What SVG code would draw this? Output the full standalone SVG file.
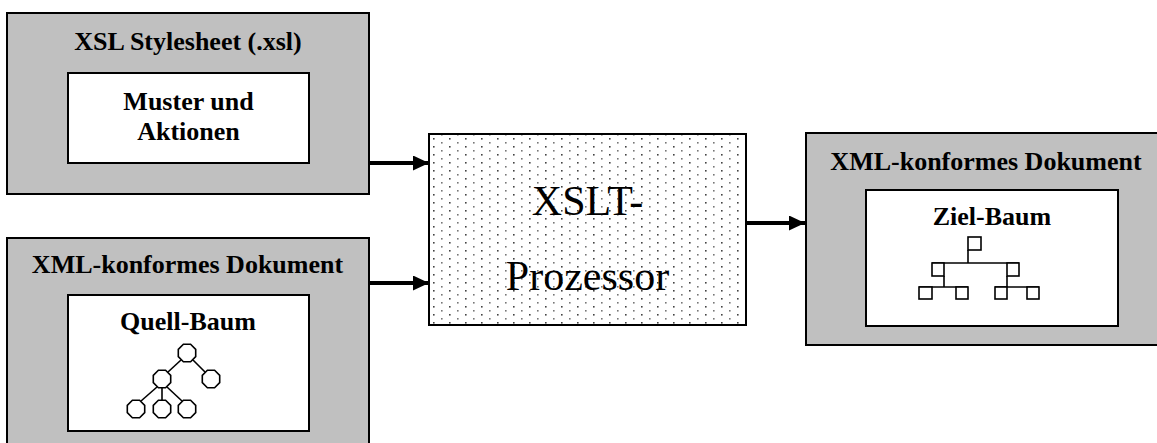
<svg xmlns="http://www.w3.org/2000/svg" width="1157" height="443" viewBox="0 0 1157 443">
  <style>
    .outer { fill: #c0c0c0; stroke: #000; stroke-width: 2; }
    .inner { fill: #fff; stroke: #000; stroke-width: 2; }
    .title { font-family: "Liberation Serif", "Times New Roman", serif; font-weight: bold; font-size: 26px; fill: #000; text-anchor: middle; }
    .big { font-family: "Liberation Serif", "Times New Roman", serif; font-size: 42px; fill: #000; text-anchor: middle; }
    .tree { fill: #fff; stroke: #000; stroke-width: 1.6; }
    .edge { fill: none; stroke: #000; stroke-width: 1.6; }
    .arrow { fill: none; stroke: #000; stroke-width: 4; }
  </style>
  <defs>
    <pattern id="dots" width="16" height="8" patternUnits="userSpaceOnUse" x="431" y="136">
      <rect x="2" y="2" width="1.6" height="1.6" fill="#444"/>
      <rect x="10" y="6" width="1.6" height="1.6" fill="#777"/>
    </pattern>
    <polygon id="oct" points="3.6,-8.7 8.7,-3.6 8.7,3.6 3.6,8.7 -3.6,8.7 -8.7,3.6 -8.7,-3.6 -3.6,-8.7"/>
    <marker id="head" markerWidth="16" markerHeight="15" refX="16" refY="7.5" orient="auto" markerUnits="userSpaceOnUse">
      <path d="M0,0 L16,7.5 L0,15 Z" fill="#000"/>
    </marker>
  </defs>

  <!-- stylesheet -->
  <g id="stylesheet">
    <rect class="outer" x="7" y="13" width="362" height="181"/>
    <text class="title" x="188" y="50">XSL Stylesheet (.xsl)</text>
    <rect class="inner" x="68" y="73" width="241" height="90"/>
    <text class="title" x="188.5" y="110">Muster und</text>
    <text class="title" x="188.5" y="140">Aktionen</text>
  </g>

  <!-- source document -->
  <g id="source">
    <rect class="outer" x="7" y="238" width="362" height="220"/>
    <text class="title" x="187.5" y="273">XML-konformes Dokument</text>
    <rect class="inner" x="68" y="295" width="241" height="136"/>
    <text class="title" x="188" y="330">Quell-Baum</text>
    <g class="edge">
      <line x1="193" y1="360" x2="205" y2="372"/>
      <line x1="181" y1="360" x2="168" y2="372"/>
      <line x1="157" y1="387" x2="141" y2="401"/>
      <line x1="162" y1="388" x2="162" y2="400"/>
      <line x1="167" y1="387" x2="182" y2="401"/>
    </g>
    <g class="tree">
      <use href="#oct" x="187" y="353"/>
      <use href="#oct" x="211" y="379"/>
      <use href="#oct" x="162" y="379"/>
      <use href="#oct" x="136" y="409"/>
      <use href="#oct" x="162" y="409"/>
      <use href="#oct" x="187" y="409"/>
    </g>
  </g>

  <!-- processor -->
  <g id="processor">
    <rect x="429" y="134" width="317" height="191" fill="#fff"/>
    <rect x="429" y="134" width="317" height="191" fill="url(#dots)" stroke="#000" stroke-width="2"/>
    <text class="big" x="587.5" y="215">XSLT-</text>
    <text class="big" x="587.5" y="290">Prozessor</text>
  </g>

  <!-- result document -->
  <g id="result">
    <rect class="outer" x="806" y="133" width="360" height="212"/>
    <text class="title" x="986" y="170">XML-konformes Dokument</text>
    <rect class="inner" x="866" y="190" width="252" height="136"/>
    <text class="title" x="992" y="225">Ziel-Baum</text>
    <g class="edge">
      <line x1="968" y1="250" x2="968" y2="263"/>
      <line x1="932" y1="263" x2="1019" y2="263"/>
      <line x1="944" y1="276" x2="944" y2="287"/>
      <line x1="919" y1="287" x2="968" y2="287"/>
      <line x1="1007" y1="276" x2="1007" y2="287"/>
      <line x1="995" y1="287" x2="1039" y2="287"/>
    </g>
    <g class="tree">
      <rect x="968" y="237" width="13" height="13"/>
      <rect x="932" y="263" width="12" height="13"/>
      <rect x="1007" y="263" width="12" height="13"/>
      <rect x="919" y="287" width="13" height="12"/>
      <rect x="956" y="287" width="12" height="12"/>
      <rect x="995" y="287" width="12" height="12"/>
      <rect x="1027" y="287" width="12" height="12"/>
    </g>
  </g>

  <!-- connectors -->
  <g id="connectors">
    <line class="arrow" x1="369" y1="163" x2="429" y2="163" marker-end="url(#head)"/>
    <line class="arrow" x1="369" y1="283" x2="429" y2="283" marker-end="url(#head)"/>
    <line class="arrow" x1="746" y1="223" x2="805" y2="223" marker-end="url(#head)"/>
  </g>
</svg>
